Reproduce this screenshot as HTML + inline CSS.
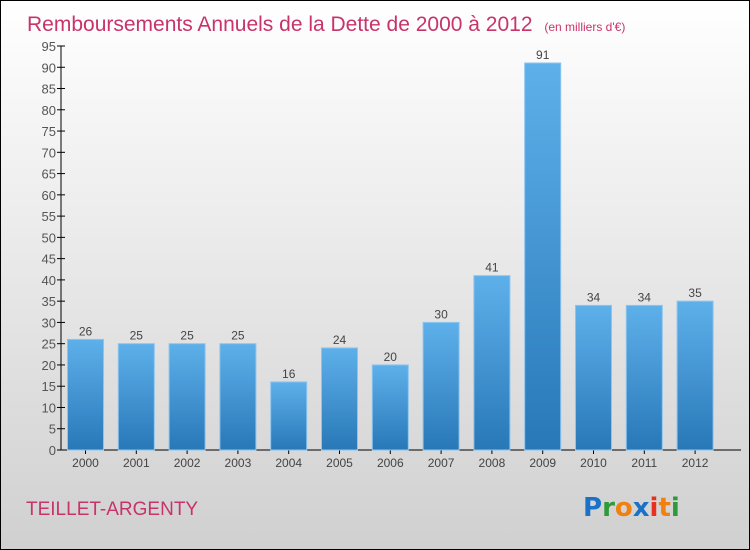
<!DOCTYPE html>
<html><head><meta charset="utf-8"><style>
body{margin:0}
#c{position:relative;width:748px;height:548px;border:1px solid #000;background:linear-gradient(#ffffff,#d0d0d0);font-family:"Liberation Sans",sans-serif;overflow:hidden}
</style></head><body>
<div id="c">
<svg width="748" height="548" style="position:absolute;left:0;top:0" id="svg">
<defs><linearGradient id="bg" x1="0" y1="0" x2="0" y2="1"><stop offset="0" stop-color="#5eb0ea"/><stop offset="1" stop-color="#2878b8"/></linearGradient></defs>
<text x="26" y="30" font-size="21" fill="#c8336a">Remboursements Annuels de la Dette de 2000 à 2012 <tspan font-size="12" dx="6">(en milliers d'€)</tspan></text>
<text x="25" y="514" font-size="19" fill="#c8336a">TEILLET-ARGENTY</text>
<g font-size="26" font-weight="bold" font-family="'DejaVu Sans',sans-serif">
<text x="582" y="515"><tspan fill="#1a72c8">P</tspan><tspan fill="#2e9a3a">r</tspan><tspan fill="#f08010">o</tspan><tspan fill="#1a72c8">x</tspan><tspan fill="#e83020">i</tspan><tspan fill="#f08010">t</tspan><tspan fill="#2e9a3a">i</tspan></text>
</g>
<g id="axes"></g><g id="bars"></g>
</svg>
</div>
<script>
const years=["2000","2001","2002","2003","2004","2005","2006","2007","2008","2009","2010","2011","2012"];
const values=[26,25,25,25,16,24,20,30,41,91,34,34,35];
const yTicks=[0,5,10,15,20,25,30,35,40,45,50,55,60,65,70,75,80,85,90,95];
const NS="http://www.w3.org/2000/svg";
const y0=449,yScale=(449-45)/95;
function yPos(v){return y0-v*yScale;}
function xPos(i){return 84.5+i*50.8;}
const ax=document.getElementById('axes'),bg=document.getElementById('bars');
function mk(t,a,p){const e=document.createElementNS(NS,t);for(const k in a)e.setAttribute(k,a[k]);p.appendChild(e);return e;}
const yl=mk('line',{x1:60,y1:45,x2:60,y2:y0,stroke:'#000'},ax);


const xl=mk('line',{x1:60,y1:y0,x2:740,y2:y0,stroke:'#000'},ax);


yTicks.forEach(v=>{const y=yPos(v);
mk('line',{x1:56,y1:y,x2:64,y2:y,stroke:'#000'},ax);
const t=mk('text',{x:55,y:y+5,'text-anchor':'end','font-size':13,fill:'#555'},ax);t.textContent=v;

});
years.forEach((yr,i)=>{const x=xPos(i),v=values[i],y=yPos(v);
const r=mk('rect',{x:x-18,y:y,width:36,height:y0-y,fill:'url(#bg)',stroke:'#8cc4ee','stroke-width':1},bg);


const l=mk('text',{x:x,y:y-4,'text-anchor':'middle','font-size':12,fill:'#444'},bg);l.textContent=v;


mk('line',{x1:x,y1:y0,x2:x,y2:y0+4,stroke:'#000'},ax);
const t=mk('text',{x:x,y:466,'text-anchor':'middle','font-size':12,fill:'#444'},ax);t.textContent=yr;

});
</script>
</body></html>
